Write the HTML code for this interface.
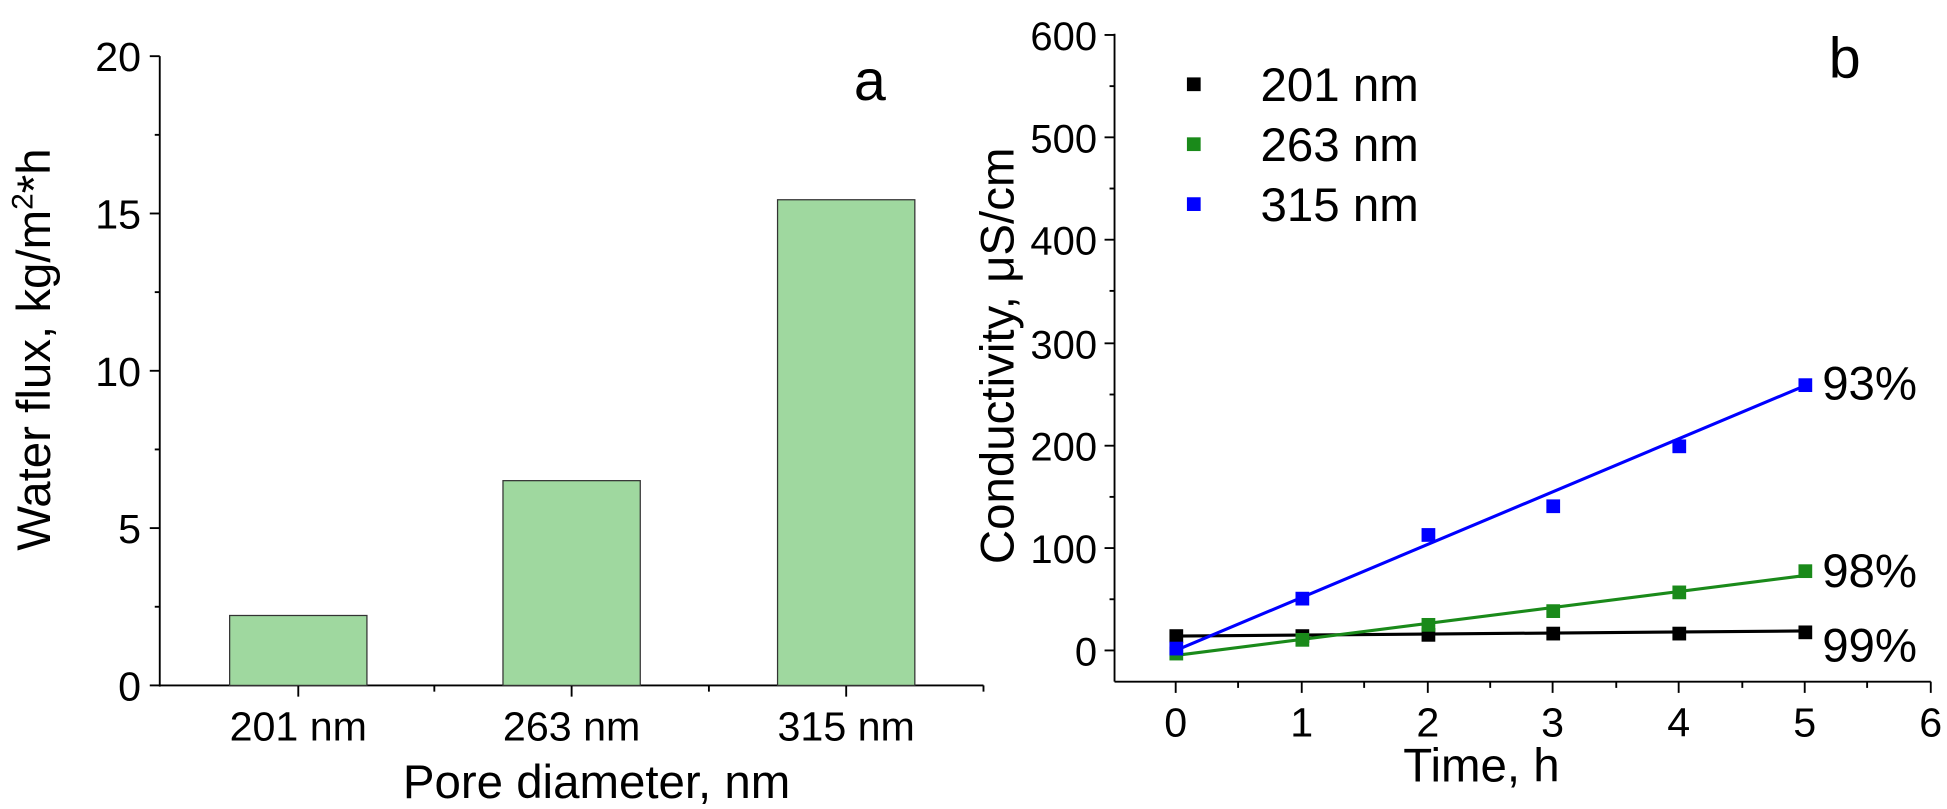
<!DOCTYPE html>
<html><head><meta charset="utf-8"><style>
html,body{margin:0;padding:0;background:#fff;}
svg{display:block;}
text{font-family:"Liberation Sans",Arial,sans-serif;fill:#000;}
</style></head><body>
<svg width="1947" height="809" viewBox="0 0 1560 648" preserveAspectRatio="none" xmlns="http://www.w3.org/2000/svg">
<!-- Panel a -->
<g stroke="#000" stroke-width="1.5" fill="none">
<line x1="128" y1="45" x2="128" y2="550"/>
<line x1="128" y1="549" x2="788" y2="549"/>
<line x1="120" y1="549" x2="128" y2="549"/><line x1="120" y1="423" x2="128" y2="423"/><line x1="120" y1="297" x2="128" y2="297"/><line x1="120" y1="171" x2="128" y2="171"/><line x1="120" y1="45" x2="128" y2="45"/>
<line x1="124" y1="486" x2="128" y2="486"/><line x1="124" y1="360" x2="128" y2="360"/><line x1="124" y1="234" x2="128" y2="234"/><line x1="124" y1="108" x2="128" y2="108"/>
<line x1="239" y1="549" x2="239" y2="558"/><line x1="458" y1="549" x2="458" y2="558"/><line x1="678" y1="549" x2="678" y2="558"/>
<line x1="348" y1="549" x2="348" y2="554"/><line x1="568" y1="549" x2="568" y2="554"/><line x1="788" y1="549" x2="788" y2="554"/>
</g>
<g fill="#9fd89f" stroke="#333" stroke-width="1">
<rect x="184" y="493" width="110" height="56"/>
<rect x="403" y="385" width="110" height="164"/>
<rect x="623" y="160" width="110" height="389"/>
</g>
<g font-size="33" text-anchor="end">
<text x="113" y="561">0</text><text x="113" y="435">5</text><text x="113" y="309">10</text><text x="113" y="183">15</text><text x="113" y="57">20</text>
</g>
<g font-size="33" text-anchor="middle">
<text x="239" y="593">201 nm</text><text x="458" y="593">263 nm</text><text x="678" y="593">315 nm</text>
<text x="478" y="639" font-size="38">Pore diameter, nm</text>
</g>
<text x="697" y="80" font-size="46" text-anchor="middle">a</text>
<text transform="translate(40,280) rotate(-90)" font-size="38" text-anchor="middle">Water flux, kg/m<tspan font-size="24" dy="-14">2</tspan><tspan dy="14">*h</tspan></text>

<!-- Panel b -->
<g stroke="#000" stroke-width="1.5" fill="none">
<line x1="893" y1="27" x2="893" y2="546"/>
<line x1="893" y1="546" x2="1547" y2="546"/>
<line x1="885" y1="521" x2="893" y2="521"/><line x1="885" y1="439" x2="893" y2="439"/><line x1="885" y1="357" x2="893" y2="357"/><line x1="885" y1="275" x2="893" y2="275"/><line x1="885" y1="192" x2="893" y2="192"/><line x1="885" y1="110" x2="893" y2="110"/><line x1="885" y1="28" x2="893" y2="28"/>
<line x1="889" y1="480" x2="893" y2="480"/><line x1="889" y1="398" x2="893" y2="398"/><line x1="889" y1="316" x2="893" y2="316"/><line x1="889" y1="233" x2="893" y2="233"/><line x1="889" y1="151" x2="893" y2="151"/><line x1="889" y1="69" x2="893" y2="69"/>
<line x1="942" y1="546" x2="942" y2="555"/><line x1="1043" y1="546" x2="1043" y2="555"/><line x1="1144" y1="546" x2="1144" y2="555"/><line x1="1244" y1="546" x2="1244" y2="555"/><line x1="1345" y1="546" x2="1345" y2="555"/><line x1="1446" y1="546" x2="1446" y2="555"/><line x1="1547" y1="546" x2="1547" y2="555"/>
<line x1="992" y1="546" x2="992" y2="551"/><line x1="1093" y1="546" x2="1093" y2="551"/><line x1="1194" y1="546" x2="1194" y2="551"/><line x1="1295" y1="546" x2="1295" y2="551"/><line x1="1396" y1="546" x2="1396" y2="551"/><line x1="1496" y1="546" x2="1496" y2="551"/>
</g>
<g font-size="32" text-anchor="end">
<text x="879" y="533">0</text><text x="879" y="451">100</text><text x="879" y="369">200</text><text x="879" y="287">300</text><text x="879" y="204">400</text><text x="879" y="122">500</text><text x="879" y="40">600</text>
</g>
<g font-size="33" text-anchor="middle">
<text x="942" y="590">0</text><text x="1043" y="590">1</text><text x="1144" y="590">2</text><text x="1244" y="590">3</text><text x="1345" y="590">4</text><text x="1446" y="590">5</text><text x="1547" y="590">6</text>
<text x="1187" y="626" font-size="38">Time, h</text>
</g>
<text x="1478" y="62" font-size="46" text-anchor="middle">b</text>
<text transform="translate(812,285) rotate(-90)" font-size="38" text-anchor="middle">Conductivity, μS/cm</text>
<!-- lines -->
<line x1="942" y1="509.5" x2="1446" y2="505.4" stroke="#000" stroke-width="2.5"/>
<line x1="942" y1="525" x2="1446" y2="461" stroke="#1a8a1a" stroke-width="2.5"/>
<line x1="942" y1="521" x2="1446" y2="309" stroke="#0000ff" stroke-width="2.5"/>
<!-- markers -->
<g fill="#000">
<rect x="937" y="504" width="11" height="11"/><rect x="1038" y="504" width="11" height="11"/><rect x="1139" y="503" width="11" height="11"/><rect x="1239" y="502" width="11" height="11"/><rect x="1340" y="502" width="11" height="11"/><rect x="1441" y="501" width="11" height="11"/>
</g>
<g fill="#1a8a1a">
<rect x="937" y="518" width="11" height="11"/><rect x="1038" y="507" width="11" height="11"/><rect x="1139" y="495" width="11" height="11"/><rect x="1239" y="484" width="11" height="11"/><rect x="1340" y="469" width="11" height="11"/><rect x="1441" y="452" width="11" height="11"/>
</g>
<g fill="#0000ff">
<rect x="937" y="514" width="11" height="11"/><rect x="1038" y="474" width="11" height="11"/><rect x="1139" y="423" width="11" height="11"/><rect x="1239" y="400" width="11" height="11"/><rect x="1340" y="352" width="11" height="11"/><rect x="1441" y="303" width="11" height="11"/>
</g>
<g font-size="38">
<text x="1460" y="320">93%</text><text x="1460" y="470">98%</text><text x="1460" y="530">99%</text>
</g>
<!-- legend -->
<rect x="951" y="62" width="11" height="11" fill="#000"/>
<rect x="951" y="110" width="11" height="11" fill="#1a8a1a"/>
<rect x="951" y="158" width="11" height="11" fill="#0000ff"/>
<g font-size="38">
<text x="1010" y="81">201 nm</text><text x="1010" y="129">263 nm</text><text x="1010" y="177">315 nm</text>
</g>
</svg>
</body></html>
